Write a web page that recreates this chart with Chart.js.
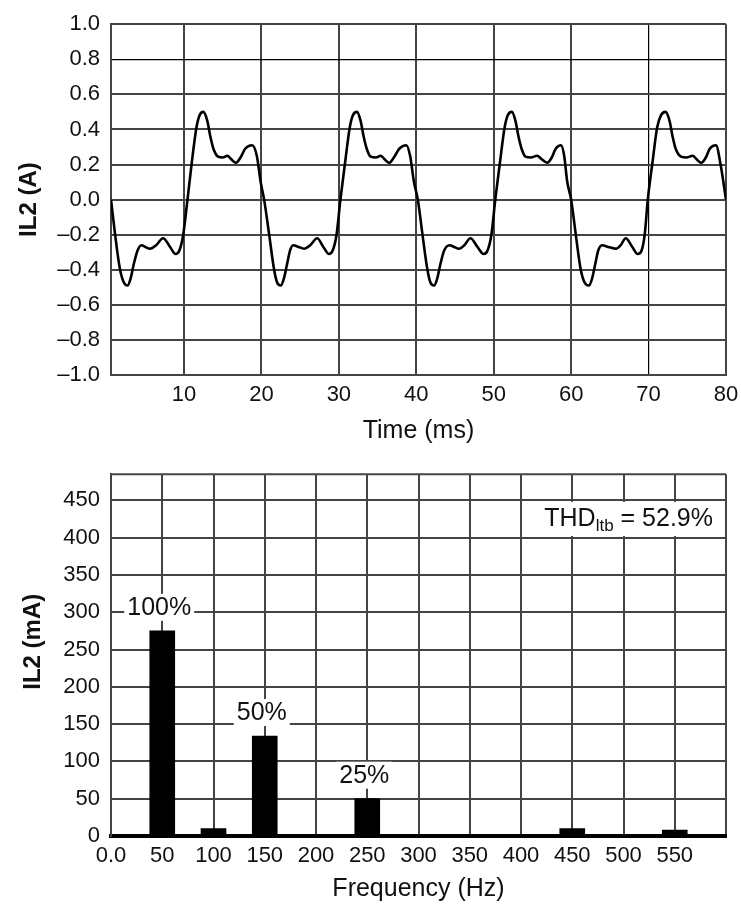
<!DOCTYPE html>
<html lang="en">
<head>
<meta charset="UTF-8">
<title>IL2 waveform and spectrum</title>
<style>
    body {
        margin: 0;
        background: #fff;
    }
    #wrap {
        position: relative;
        width: 741px;
        height: 906px;
    }
    canvas {
        position: absolute;
        left: 0;
    }
</style>
</head>
<body>
<div id="wrap">
    <canvas id="waveChart" width="741" height="450" style="top:0"></canvas>
    <canvas id="specChart" width="741" height="456" style="top:450px"></canvas>
</div>

<script src="https://cdn.jsdelivr.net/npm/chart.js"></script>
<script>
    // waveform, one line per 20 ms period
    const timeMs = [
        0.57, 1.1, 1.7, 2.2, 2.7, 3.1, 3.5, 4.0, 4.5, 5.0, 5.6, 6.4, 7.3, 8.2, 8.9, 9.4, 9.9, 10.45, 11.0, 11.6, 12.0, 12.5, 13.0, 13.4, 13.8, 14.4, 15.0, 15.6, 16.1, 16.7, 17.3, 17.9, 18.8, 19.4, 19.9, 20.35,
        21.0, 21.6, 22.0, 22.5, 22.9, 23.3, 23.7, 24.1, 24.8, 25.5, 26.3, 27.2, 28.0, 28.7, 29.2, 29.7, 30.2, 30.8, 31.4, 31.8, 32.35, 32.8, 33.2, 33.6, 34.1, 34.8, 35.4, 35.9, 36.5, 37.1, 37.8, 38.7, 39.2, 39.7, 40.2,
        40.8, 41.4, 41.8, 42.3, 42.7, 43.1, 43.6, 44.3, 44.9, 45.5, 46.2, 47.0, 47.9, 48.7, 49.2, 49.7, 50.2, 50.8, 51.4, 51.8, 52.35, 52.8, 53.2, 53.6, 54.1, 54.8, 55.6, 56.2, 56.9, 57.5, 58.0, 58.7, 59.1, 59.5, 60.0,
        60.6, 61.2, 61.7, 62.3, 62.7, 63.1, 63.5, 64.0, 64.8, 65.8, 66.4, 67.05, 67.9, 68.6, 69.1, 69.5, 69.9, 70.5, 71.1, 71.6, 72.2, 72.7, 73.1, 73.5, 74.2, 74.9, 75.7, 76.2, 76.8, 77.4, 77.9, 78.7, 79.3, 80.0
    ];
    const currentA = [
        0, -0.2, -0.39, -0.47, -0.49, -0.45, -0.37, -0.29, -0.26, -0.27, -0.28, -0.26, -0.22, -0.27, -0.31, -0.29, -0.2, 0, 0.21, 0.41, 0.48, 0.5, 0.45, 0.36, 0.29, 0.245, 0.24, 0.25, 0.23, 0.21, 0.24, 0.29, 0.31, 0.25, 0.1, 0,
        -0.2, -0.39, -0.47, -0.49, -0.45, -0.37, -0.29, -0.26, -0.27, -0.28, -0.26, -0.22, -0.27, -0.31, -0.29, -0.2, 0, 0.21, 0.41, 0.48, 0.5, 0.45, 0.36, 0.29, 0.245, 0.24, 0.25, 0.23, 0.21, 0.24, 0.29, 0.31, 0.25, 0.1, 0,
        -0.2, -0.39, -0.47, -0.49, -0.45, -0.37, -0.29, -0.26, -0.27, -0.28, -0.26, -0.22, -0.27, -0.31, -0.29, -0.2, 0, 0.21, 0.41, 0.48, 0.5, 0.45, 0.36, 0.29, 0.245, 0.24, 0.25, 0.23, 0.21, 0.24, 0.29, 0.31, 0.25, 0.1, 0,
        -0.2, -0.39, -0.47, -0.49, -0.45, -0.37, -0.29, -0.26, -0.27, -0.28, -0.26, -0.22, -0.27, -0.31, -0.29, -0.2, 0, 0.21, 0.41, 0.48, 0.5, 0.45, 0.36, 0.29, 0.245, 0.24, 0.25, 0.23, 0.21, 0.24, 0.29, 0.31, 0.2, 0
    ];
    const timeTicks = [10, 20, 30, 40, 50, 60, 70, 80];
    const ampTicks = [-1.0, -0.8, -0.6, -0.4, -0.2, 0.0, 0.2, 0.4, 0.6, 0.8, 1.0];
    const ampTickLabels = ['\u20131.0', '\u20130.8', '\u20130.6', '\u20130.4', '\u20130.2', '0.0', '0.2', '0.4', '0.6', '0.8', '1.0'];

    // harmonic spectrum
    const freqHz = [50, 100, 150, 200, 250, 300, 350, 400, 450, 500, 550];
    const harmonicMa = [275, 10, 134, 0, 50, 0, 0, 0, 10, 0, 8];
    const harmonicPct = ['100%', '', '50%', '', '25%', '', '', '', '', '', ''];
    const freqTicks = [0, 50, 100, 150, 200, 250, 300, 350, 400, 450, 500, 550, 600];
    const freqTickLabels = ['0.0', '50', '100', '150', '200', '250', '300', '350', '400', '450', '500', '550', ''];
    const maTicks = [0, 50, 100, 150, 200, 250, 300, 350, 400, 450];
    const thdParts = ['THD', 'ltb', ' = 52.9%'];

    const fontFamily = "'Liberation Sans', Arial, Helvetica, sans-serif";
    const textColor = '#111';
    const gridGrey = '#444';

    Chart.defaults.font.family = fontFamily;
    Chart.defaults.color = textColor;

    const isTick = (c, v) => c.tick && Math.abs(c.tick.value - v) < 1e-9;

    // top: current waveform
    new Chart(document.getElementById('waveChart'), {
        type: 'line',
        data: {
            datasets: [{
                data: timeMs.map((t, i) => ({ x: t, y: currentA[i] })),
                borderColor: '#000',
                borderWidth: 2.6,
                pointRadius: 0,
                cubicInterpolationMode: 'monotone',
                fill: false
            }]
        },
        options: {
            responsive: false,
            animation: false,
            devicePixelRatio: 1,
            layout: { padding: { top: 20, right: 15, left: 0, bottom: 0 } },
            plugins: { legend: { display: false }, tooltip: { enabled: false } },
            scales: {
                x: {
                    type: 'linear',
                    min: 0.57,
                    max: 80,
                    afterBuildTicks: s => { s.ticks = timeTicks.map(v => ({ value: v })); },
                    afterFit: s => { s.height = 75; s.paddingRight = 0; },
                    ticks: {
                        padding: 7,
                        autoSkip: false,
                        maxRotation: 0,
                        font: { size: 22 },
                        callback: (v, i) => String(timeTicks[i])
                    },
                    grid: {
                        drawTicks: false,
                        color: c => isTick(c, 70) ? '#000' : gridGrey,
                        lineWidth: c => isTick(c, 70) ? 1.2 : 2
                    },
                    border: { color: gridGrey, width: 2 },
                    title: { display: true, text: 'Time (ms)', font: { size: 25 }, padding: { top: 0, bottom: 4 } }
                },
                y: {
                    min: -1,
                    max: 1,
                    afterBuildTicks: s => { s.ticks = ampTicks.map(v => ({ value: v })); },
                    afterFit: s => { s.width = 111; },
                    ticks: {
                        padding: 11,
                        font: { size: 22 },
                        callback: (v, i) => ampTickLabels[i]
                    },
                    grid: {
                        drawTicks: false,
                        color: c => isTick(c, 0.8) ? '#000' : gridGrey,
                        lineWidth: c => isTick(c, 0.8) ? 1.2 : 2
                    },
                    border: { color: gridGrey, width: 2 },
                    title: { display: true, text: 'IL2 (A)', font: { size: 24, weight: 'bold' }, padding: { top: 15, bottom: 0 } }
                }
            }
        }
    });

    // labels above the bars, THD box and the top frame line
    const specNotes = {
        id: 'specNotes',
        afterDatasetsDraw(chart) {
            const { ctx, chartArea, scales } = chart;
            const bars = chart.getDatasetMeta(0).data;
            ctx.save();

            ctx.strokeStyle = gridGrey;
            ctx.lineWidth = 2;
            ctx.beginPath();
            ctx.moveTo(chartArea.left, chartArea.top);
            ctx.lineTo(chartArea.right, chartArea.top);
            ctx.stroke();

            ctx.font = '25px ' + fontFamily;
            ctx.textAlign = 'center';
            ctx.textBaseline = 'middle';
            harmonicPct.forEach((txt, i) => {
                if (!txt) return;
                const bar = bars[i];
                const cx = bar.x - 3;
                const cy = bar.y - 23;
                const w = ctx.measureText(txt).width + 6;
                ctx.fillStyle = '#fff';
                ctx.fillRect(cx - w / 2, cy - 14, w, 27);
                ctx.fillStyle = textColor;
                ctx.fillText(txt, cx, cy);
            });

            // THD with subscript
            const bigFont = '25px ' + fontFamily;
            const subFont = '17px ' + fontFamily;
            ctx.font = bigFont;
            const w1 = ctx.measureText(thdParts[0]).width;
            const w3 = ctx.measureText(thdParts[2]).width;
            ctx.font = subFont;
            const w2 = ctx.measureText(thdParts[1]).width;
            const endX = chartArea.right - 13;
            const startX = endX - (w1 + w2 + w3);
            const cy = scales.y.getPixelForValue(425);
            ctx.fillStyle = '#fff';
            ctx.fillRect(startX - 8, cy - 17, chartArea.right - 3 - (startX - 8), 34);
            ctx.fillStyle = textColor;
            ctx.textAlign = 'left';
            ctx.font = bigFont;
            ctx.fillText(thdParts[0], startX, cy);
            ctx.font = subFont;
            ctx.fillText(thdParts[1], startX + w1, cy + 7);
            ctx.font = bigFont;
            ctx.fillText(thdParts[2], startX + w1 + w2, cy);

            ctx.restore();
        }
    };

    // bottom: harmonic spectrum
    new Chart(document.getElementById('specChart'), {
        type: 'bar',
        data: {
            datasets: [{
                data: freqHz.map((f, i) => ({ x: f, y: harmonicMa[i] })),
                backgroundColor: '#000',
                borderWidth: 0,
                barThickness: 25
            }]
        },
        options: {
            responsive: false,
            animation: false,
            devicePixelRatio: 1,
            layout: { padding: { top: 23, right: 15, left: 0, bottom: 0 } },
            plugins: { legend: { display: false }, tooltip: { enabled: false } },
            scales: {
                x: {
                    type: 'linear',
                    min: 0,
                    max: 600,
                    offset: false,
                    afterBuildTicks: s => { s.ticks = freqTicks.map(v => ({ value: v })); },
                    afterFit: s => { s.height = 70; },
                    ticks: {
                        padding: 7,
                        autoSkip: false,
                        maxRotation: 0,
                        font: { size: 22 },
                        callback: (v, i) => freqTickLabels[i]
                    },
                    grid: { drawTicks: false, offset: false, color: gridGrey, lineWidth: 2 },
                    border: { color: '#000', width: 4 },
                    title: { display: true, text: 'Frequency (Hz)', font: { size: 25 }, padding: { top: 0, bottom: 2 } }
                },
                y: {
                    min: 0,
                    max: 485,
                    afterBuildTicks: s => { s.ticks = maTicks.map(v => ({ value: v })); },
                    afterFit: s => { s.width = 111; },
                    ticks: {
                        padding: 11,
                        font: { size: 22 },
                        callback: (v, i) => String(maTicks[i])
                    },
                    grid: { drawTicks: false, color: gridGrey, lineWidth: 2 },
                    border: { color: gridGrey, width: 2 },
                    title: { display: true, text: '    IL2 (mA)', font: { size: 24, weight: 'bold' }, padding: { top: 19, bottom: 0 } }
                }
            }
        },
        plugins: [specNotes]
    });
</script>
</body>
</html>
